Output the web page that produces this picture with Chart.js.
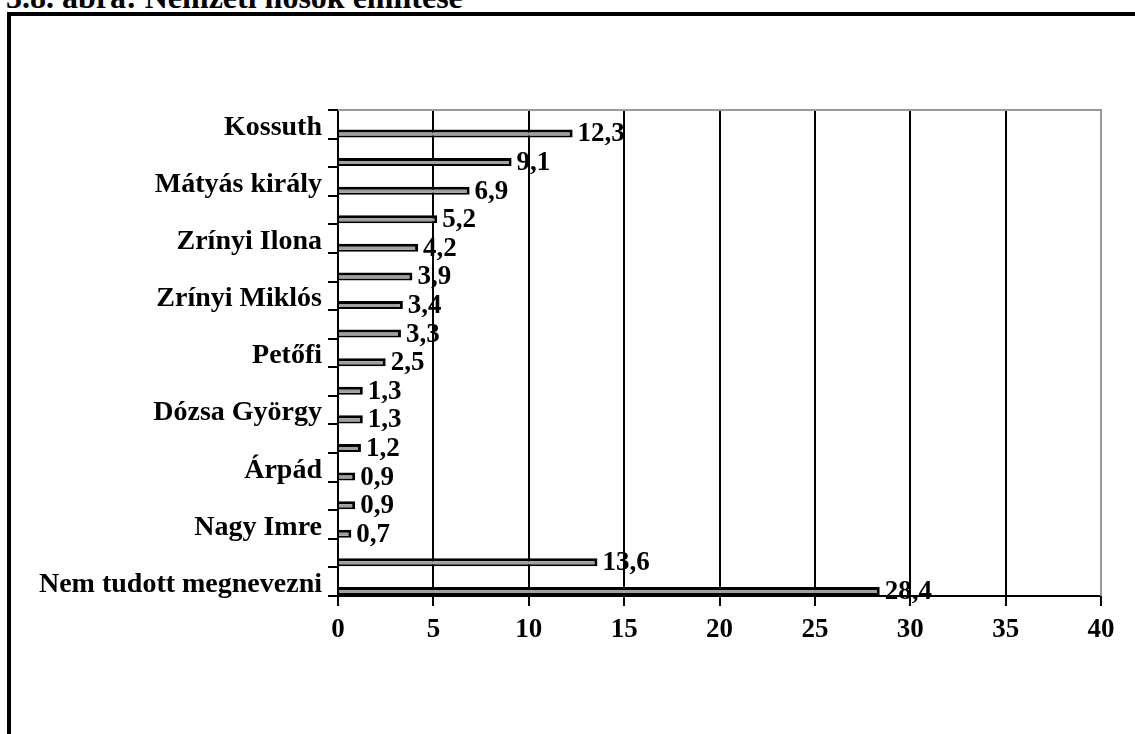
<!DOCTYPE html>
<html>
<head>
<meta charset="utf-8">
<script src="https://cdn.jsdelivr.net/npm/chart.js@4.4.1/dist/chart.umd.min.js"></script>
<style>
  html, body { margin: 0; padding: 0; background: #fff; overflow: hidden; }
  #wrap { position: relative; width: 1135px; height: 734px; }
  #title {
    position: absolute; left: 6px; top: -19px;
    font: bold 32px "Liberation Serif", "Times New Roman", serif;
    line-height: 32px; white-space: nowrap; color: #000;
  }
  #frame {
    position: absolute; left: 7px; top: 12px; right: -20px; bottom: -20px;
    border: 4px solid #000; pointer-events: none;
  }
  canvas { position: absolute; left: 0; top: 0; }
</style>
</head>
<body>
<div id="wrap">
  <div id="title">3.8. ábra: Nemzeti hősök említése</div>
  <canvas id="chart" width="1135" height="734"></canvas>
  <div id="frame"></div>
</div>
<script>
// categories (only every second one is labelled in the original)
var categories = ["Kossuth", "", "Mátyás király", "", "Zrínyi Ilona", "", "Zrínyi Miklós", "",
                  "Petőfi", "", "Dózsa György", "", "Árpád", "", "Nagy Imre", "", "Nem tudott megnevezni"];
var values = [12.3, 9.1, 6.9, 5.2, 4.2, 3.9, 3.4, 3.3, 2.5, 1.3, 1.3, 1.2, 0.9, 0.9, 0.7, 13.6, 28.4];
// empty first series - pushes the visible bars to the lower half of each slot, like the original
var spacer = values.map(function(){ return null; });
var xTicks = [0, 5, 10, 15, 20, 25, 30, 35, 40];

var serif = "'Liberation Serif', 'Times New Roman', serif";

var frameLines = {
    id: 'frameLines',
    afterDatasetsDraw: function(chart) {
        var a = chart.chartArea, ctx = chart.ctx;
        ctx.save();
        ctx.strokeStyle = '#999';
        ctx.lineWidth = 2;
        ctx.beginPath();
        ctx.moveTo(a.left, a.top);
        ctx.lineTo(a.right, a.top);
        ctx.lineTo(a.right, a.bottom);
        ctx.stroke();
        ctx.restore();
    }
};

var valueLabels = {
    id: 'valueLabels',
    afterDatasetsDraw: function(chart) {
        var ctx = chart.ctx;
        var meta = chart.getDatasetMeta(1);
        ctx.save();
        ctx.font = 'bold 27px ' + serif;
        ctx.fillStyle = '#000';
        ctx.textAlign = 'left';
        ctx.textBaseline = 'middle';
        meta.data.forEach(function(bar, i) {
            ctx.fillText(values[i].toFixed(1).replace('.', ','), bar.x + 5, bar.y + 1);
        });
        ctx.restore();
    }
};

new Chart(document.getElementById('chart'), {
    type: 'bar',
    data: {
        labels: categories,
        datasets: [
            { label: 'spacer', data: spacer },
            {
                label: 'Említés (%)',
                data: values,
                backgroundColor: '#a0a0a0',
                borderColor: '#000',
                borderWidth: { top: 3, right: 3, bottom: 2, left: 0 },
                borderSkipped: false
            }
        ]
    },
    options: {
        indexAxis: 'y',
        responsive: false,
        animation: false,
        categoryPercentage: 1.287,
        barPercentage: 0.435,
        layout: { padding: { left: 0, top: 110, right: 34, bottom: 0 } },
        plugins: { legend: { display: false }, tooltip: { enabled: false } },
        scales: {
            x: {
                min: 0, max: 40,
                afterBuildTicks: function(scale) {
                    scale.ticks = xTicks.map(function(v){ return { value: v }; });
                },
                afterFit: function(scale) { scale.height = 138; },
                border: { color: '#000', width: 2 },
                grid: {
                    color: function(c) { return c.tick && c.tick.value === 40 ? '#999' : '#000'; },
                    lineWidth: 2,
                    tickColor: '#000',
                    tickLength: 10
                },
                ticks: {
                    color: '#000',
                    padding: 8,
                    font: { family: serif, size: 27, weight: 'bold' }
                }
            },
            y: {
                afterFit: function(scale) { scale.width = 338; },
                border: { color: '#000', width: 2 },
                grid: {
                    offset: true,
                    drawOnChartArea: false,
                    tickColor: '#000',
                    tickLength: 10,
                    lineWidth: 2
                },
                ticks: {
                    autoSkip: false,
                    color: '#000',
                    padding: 6,
                    labelOffset: 3,
                    font: { family: serif, size: 28, weight: 'bold' }
                }
            }
        }
    },
    plugins: [frameLines, valueLabels]
});
</script>
</body>
</html>
